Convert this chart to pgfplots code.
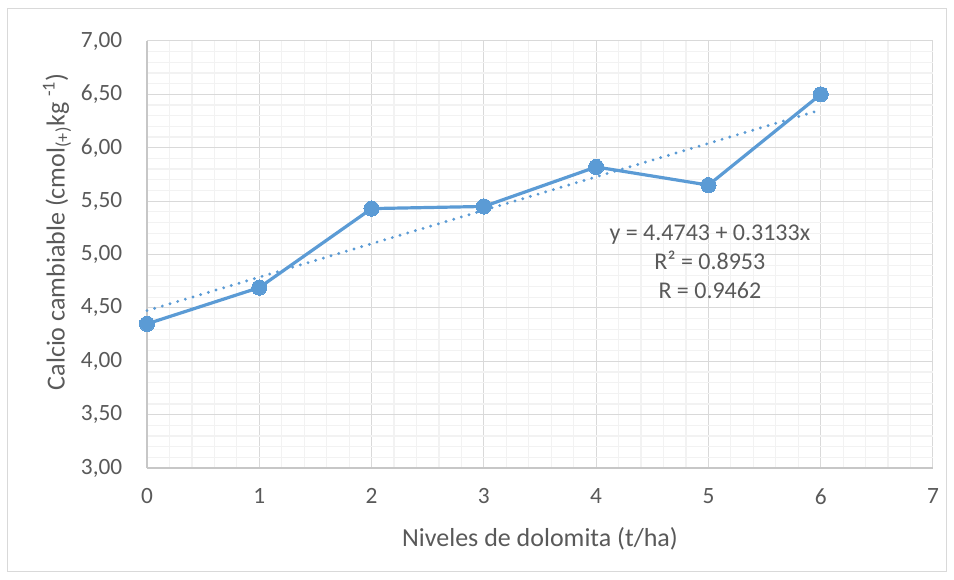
\documentclass[border=0pt]{standalone}
\usepackage{pgfplots}
\pgfplotsset{compat=1.18}
\usepackage{fontspec}
\setmainfont{Carlito}
\definecolor{serie}{HTML}{5B9BD5}
\definecolor{txt}{HTML}{595959}
\definecolor{gmaj}{HTML}{D9D9D9}
\definecolor{gmin}{HTML}{F2F2F2}
\definecolor{frame}{HTML}{D9D9D9}
\begin{document}
\begin{tikzpicture}
\useasboundingbox (-110.25pt,-84pt) rectangle (605.25pt,351pt);
\draw[frame, line width=0.75pt] (-104.25pt,-78pt) rectangle (599.25pt,344.25pt);
\begin{axis}[
  at={(0,0)}, anchor=south west,
  scale only axis, width=589.5pt, height=320.25pt,
  xmin=0, xmax=7, ymin=3, ymax=7,
  xtick={0,1,...,7}, ytick={3,3.5,...,7},
  minor x tick num=4, minor y tick num=4,
  grid=both,
  major grid style={gmaj, line width=0.75pt},
  minor grid style={gmin, line width=0.9pt},
  axis x line*=bottom, axis y line*=left,
  axis line style={gmaj!80!gray, line width=0.9pt, -},
  tick style={draw=none},
  major tick length=0pt, minor tick length=0pt,
  /pgf/number format/assume math mode=true,
  ticklabel style={font=\fontsize{17.5}{19}\selectfont, text=txt},
  yticklabel style={/pgf/number format/fixed, /pgf/number format/fixed zerofill, /pgf/number format/precision=2, /pgf/number format/use comma, xshift=-15pt},
  xticklabel style={yshift=-12pt},
  xlabel={Niveles de dolomita (t/ha)},
  ylabel={Calcio cambiable (cmol\textsubscript{(+)}kg \textsuperscript{-1})},
  label style={font=\fontsize{19.5}{22}\selectfont, text=txt},
  xlabel style={at={(axis description cs:0.5,0)}, anchor=center, yshift=-53pt},
  ylabel style={at={(axis description cs:-0.1145,0.553)}, anchor=center},
  clip=false,
]
\addplot[serie, line width=2.4pt, mark=*, mark size=5.7pt, mark options={fill=serie, draw=serie, line width=0pt}]
  coordinates {(0,4.35) (1,4.69) (2,5.43) (3,5.45) (4,5.82) (5,5.65) (6,6.50)};
\addplot[serie, line width=2.4pt, line cap=round, dash pattern=on 0pt off 6pt]
  coordinates {(0,4.4743) (6,6.3541)};
\node[text=txt, font=\fontsize{18}{21.75}\selectfont, align=center] at (axis cs:5.013,4.93)
  {y = 4.4743 + 0.3133x\\R² = 0.8953\\R = 0.9462};
\end{axis}
\end{tikzpicture}
\end{document}
